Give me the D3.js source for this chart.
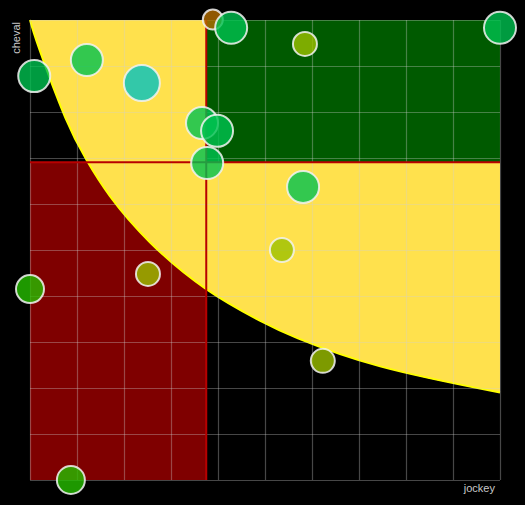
<!DOCTYPE html>
<html>
<head>
<meta charset="utf-8">
<script src="https://cdn.jsdelivr.net/npm/d3@7"></script>
<style>
  html, body { margin: 0; padding: 0; background: #000; }
  svg { display: block; }
</style>
</head>
<body>
<div id="chart"></div>
<script>
// ---- data ----
const xTicks = [0, 1, 2, 3, 4, 5, 6, 7, 8, 9, 10];
const yTicks = [0, 1, 2, 3, 4, 5, 6, 7, 8, 9, 10];
const xLabel = "jockey";
const yLabel = "cheval";

// quadrant thresholds
const xSplit = 3.75;
const ySplit = 6.91;

// boundary curve
const boundaryX = [0, 0.2, 0.75, 1.2, 1.7, 2.55, 3.75, 4.9, 5.7, 7.45, 10];
const boundaryY = [10, 9.36, 7.88, 6.96, 6.17, 5.17, 4.15, 3.46, 3.08, 2.47, 1.9];

// bubbles
const pointX = [3.89, 4.28, 10, 5.85, 1.21, 0.09, 2.38, 3.66, 3.98, 3.77, 5.81, 5.36, 2.51, 0, 6.23, 0.87];
const pointY = [10.01, 9.83, 9.83, 9.48, 9.13, 8.78, 8.63, 7.76, 7.59, 6.89, 6.37, 5.0, 4.48, 4.15, 2.59, 0];
const pointSize = [10, 16, 16, 12, 16, 16, 18, 16, 16, 16, 16, 12, 12, 14, 12, 14];
const pointGroup = ["brown", "green", "green", "olive", "green", "green", "teal", "green", "green", "green", "green", "olive", "olive", "lime", "olive", "lime"];
const groupNames = ["green", "teal", "olive", "lime", "brown"];
const groupColors = ["#00c250", "#00c2c0", "#9cc100", "#26be00", "#b46e00"];

// ---- chart ----
const W = 525, H = 505;
const m = {left: 30, top: 20, right: 25, bottom: 25};

const x = d3.scaleLinear().domain([0, 10]).range([m.left, W - m.right]);
const y = d3.scaleLinear().domain([0, 10]).range([H - m.bottom, m.top]);
const color = d3.scaleOrdinal().domain(groupNames).range(groupColors);

const svg = d3.select("#chart").append("svg")
  .attr("width", W).attr("height", H)
  .style("background", "#000");

// bottom-left (red) quadrant
svg.append("rect")
  .attr("x", x(0)).attr("y", y(ySplit))
  .attr("width", x(xSplit) - x(0)).attr("height", y(0) - y(ySplit))
  .attr("fill", "#7f0000");

// yellow zone above the boundary curve
const boundary = boundaryX.map((d, i) => [d, boundaryY[i]]);
const area = d3.area()
  .x(d => x(d[0]))
  .y0(y(10))
  .y1(d => y(d[1]))
  .curve(d3.curveNatural);
svg.append("path")
  .datum(boundary)
  .attr("d", area)
  .attr("fill", "#ffe14d");

const line = d3.line()
  .x(d => x(d[0]))
  .y(d => y(d[1]))
  .curve(d3.curveNatural);
svg.append("path")
  .datum(boundary)
  .attr("d", line)
  .attr("fill", "none")
  .attr("stroke", "#ffff00")
  .attr("stroke-width", 2);

// top-right (green) quadrant
svg.append("rect")
  .attr("x", x(xSplit)).attr("y", y(10))
  .attr("width", x(10) - x(xSplit)).attr("height", y(ySplit) - y(10))
  .attr("fill", "#005a00");

// grid via axes
const gx = svg.append("g")
  .attr("transform", `translate(0,${y(0)})`)
  .call(d3.axisBottom(x).tickValues(xTicks).tickSize(-(y(0) - y(10))).tickFormat(""));
const gy = svg.append("g")
  .attr("transform", `translate(${x(0)},0)`)
  .call(d3.axisLeft(y).tickValues(yTicks).tickSize(-(x(10) - x(0))).tickFormat(""));
[gx, gy].forEach(g => {
  g.select(".domain").remove();
  g.selectAll(".tick line")
    .attr("stroke", "#d0d0d0")
    .attr("stroke-opacity", 0.34)
    .attr("stroke-width", 1.2);
});

// quadrant separator lines
svg.append("line")
  .attr("x1", x(xSplit)).attr("x2", x(xSplit))
  .attr("y1", y(10)).attr("y2", y(0))
  .attr("stroke", "#b80000").attr("stroke-width", 2);
svg.append("line")
  .attr("x1", x(0)).attr("x2", x(10))
  .attr("y1", y(ySplit)).attr("y2", y(ySplit))
  .attr("stroke", "#b80000").attr("stroke-width", 2);

// bubbles
const points = pointX.map((d, i) => ({x: d, y: pointY[i], r: pointSize[i], g: pointGroup[i]}));
svg.append("g").selectAll("circle")
  .data(points)
  .join("circle")
  .attr("cx", d => x(d.x))
  .attr("cy", d => y(d.y))
  .attr("r", d => d.r)
  .attr("fill", d => color(d.g))
  .attr("fill-opacity", 0.8)
  .attr("stroke", "#f2f2f2")
  .attr("stroke-opacity", 0.85)
  .attr("stroke-width", 2);

// axis labels
svg.append("text")
  .attr("transform", `translate(${x(0) - 10},${y(10) + 2}) rotate(-90)`)
  .attr("text-anchor", "end")
  .attr("fill", "#c8c8c8")
  .style("font-family", "'Liberation Sans', Arial, sans-serif")
  .style("font-size", "11px")
  .text(yLabel);
svg.append("text")
  .attr("x", x(10) - 5)
  .attr("y", y(0) + 12)
  .attr("text-anchor", "end")
  .attr("fill", "#c8c8c8")
  .style("font-family", "'Liberation Sans', Arial, sans-serif")
  .style("font-size", "11px")
  .text(xLabel);
</script>
</body>
</html>
